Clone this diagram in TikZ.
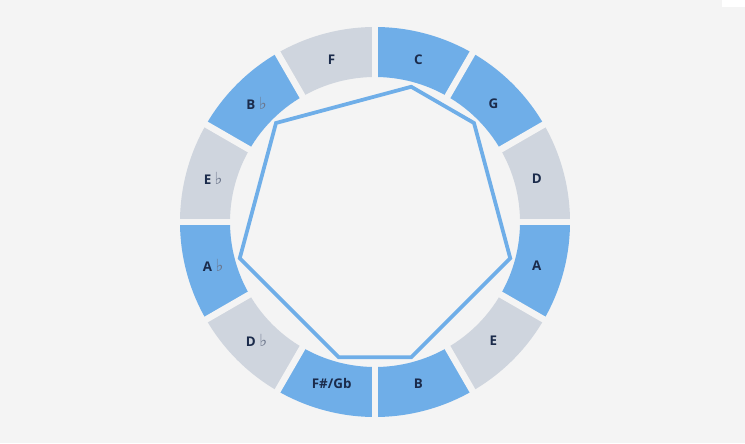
\documentclass[tikz,border=0pt]{standalone}
\usepackage{fontspec}
\setmainfont{Open Sans}
\newfontfamily\symfont{DejaVu Sans}
\definecolor{bg}{HTML}{F4F4F4}
\definecolor{keyblue}{HTML}{6FAEE8}
\definecolor{keygray}{HTML}{CFD5DE}
\definecolor{ink}{HTML}{1B2B4B}
\newcommand{\flt}{\ {\symfont\mdseries\fontsize{9.5}{9}\selectfont\color{ink!65}\char"266D}}
\newcommand{\fsgb}{F\#/Gb}

\begin{document}
\begin{tikzpicture}[
    % anillo de tonalidades
    gapline/.style={line width=0.13cm, draw=bg},
    notelabel/.style={font=\fontsize{7.6}{9}\selectfont\bfseries, text=ink},
    scaleline/.style={line width=0.075cm, draw=keyblue, line join=miter}
]
\useasboundingbox (0,0) rectangle (14.9,8.86);
\fill[bg] (0,0) rectangle (14.9,8.86);
\fill[white] (14.44,8.72) rectangle (14.9,8.86);

\begin{scope}[shift={(7.5,4.42)}]
% --- SECTORES ---
\foreach \name/\col [count=\i] in {C/keyblue, G/keyblue, D/keygray, A/keyblue,
    E/keygray, B/keyblue, \fsgb/keyblue, D\flt/keygray, A\flt/keyblue,
    E\flt/keygray, B\flt/keyblue, F/keygray}{
  \pgfmathsetmacro{\s}{90-30*(\i-1)}
  \pgfmathsetmacro{\e}{\s-30}
  \pgfmathsetmacro{\m}{\s-15}
  \fill[\col] (\s:2.9) -- (\s:3.9) arc[start angle=\s, end angle=\e, radius=3.9]
    -- (\e:2.9) arc[start angle=\e, end angle=\s, radius=2.9] -- cycle;
  \node[notelabel] (n\i) at (\m:3.35) {\name};
  \coordinate (v\i) at (\m:2.8);
}

% --- SEPARACIONES ---
\foreach \t in {0,30,...,150}{
  \draw[gapline] (\t:4.0) -- (\t:2.85);
  \draw[gapline] (\t+180:4.0) -- (\t+180:2.85);
}

% --- ESCALA ---
\draw[scaleline] (v1) -- (v2) -- (v4) -- (v6) -- (v7) -- (v9) -- (v11) -- cycle;
\end{scope}

\end{tikzpicture}
\end{document}
